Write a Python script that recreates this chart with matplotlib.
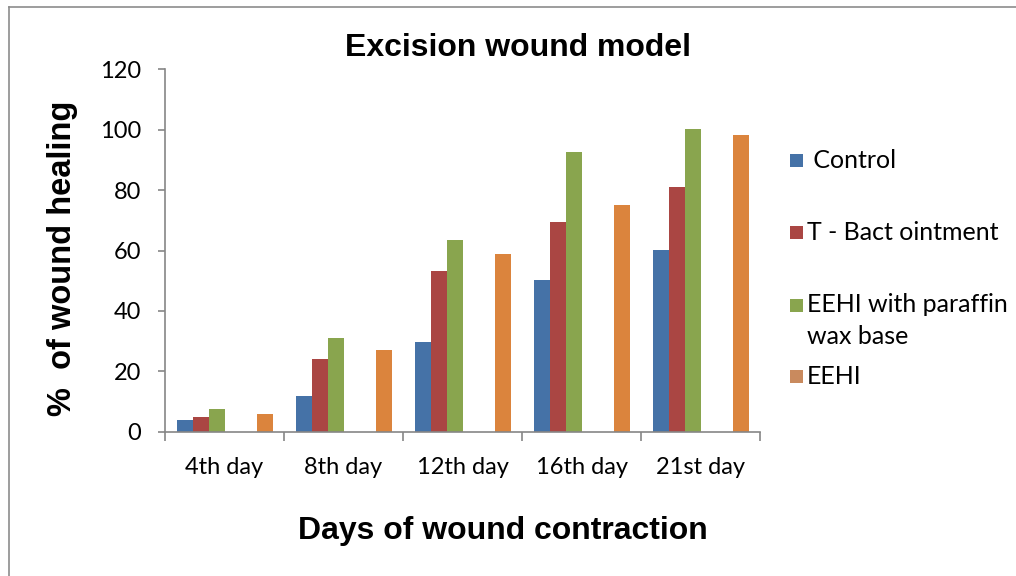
import matplotlib
matplotlib.use("Agg")
import numpy as np
from matplotlib import pyplot as plt
from matplotlib.patches import Rectangle
from matplotlib.lines import Line2D

# data
days = ["4th day", "8th day", "12th day", "16th day", "21st day"]
control = [4.0, 11.7, 29.8, 50.1, 60.1]
tbact = [5.0, 24.2, 53.3, 69.3, 81.0]
paraffin = [7.6, 30.9, 63.4, 92.7, 100.1]
eehi = [5.7, 27.0, 59.0, 75.0, 98.2]
series_names = [" Control", "T - Bact ointment", "EEHI with paraffin\nwax base", "EEHI"]
yticks = [0, 20, 40, 60, 80, 100, 120]

bar_colors = ["#4572A7", "#AA4643", "#89A54E", "#DB843D"]
legend_colors = ["#4572A7", "#AA4643", "#89A54E", "#C98A5E"]
slots = [0, 1, 2, 5]   # 6 slots per group, 2 left empty

W, H = 1016, 576
fig = plt.figure(figsize=(W / 100, H / 100), dpi=100)
fig.patch.set_facecolor("white")
ax = fig.add_axes([165 / W, 1 - 431.7 / H, 595 / W, (431.7 - 69.3) / H])

x = np.arange(len(days))
bw = 16 / 119
for vals, col, s in zip([control, tbact, paraffin, eehi], bar_colors, slots):
    ax.bar(x + (s - 2.5) * bw, vals, width=bw, color=col, edgecolor="none")

ax.set_xlim(-0.5, len(days) - 0.5)
ax.set_ylim(0, 120)
ax.set_yticks(yticks)
ax.set_yticklabels([str(v) for v in yticks], family="Lato", fontsize=17)
ax.set_xticks(np.arange(len(days) + 1) - 0.5)
ax.set_xticklabels([])
ax.set_xticks(x, minor=True)
ax.set_xticklabels(days, minor=True, family="Lato", fontsize=17)

gray = "#868686"
for sp in ["top", "right"]:
    ax.spines[sp].set_visible(False)
for sp in ["left", "bottom"]:
    ax.spines[sp].set_color(gray)
    ax.spines[sp].set_linewidth(1.2)
ax.tick_params(axis="y", direction="out", length=5, width=1.2, color=gray, pad=12)
ax.tick_params(axis="x", which="major", direction="out", length=6.5, width=1.2, color=gray)
ax.tick_params(axis="x", which="minor", length=0, pad=18)

# titles
fig.text(518 / W, 1 - 48 / H, "Excision wound model", family="Liberation Sans",
         weight="bold", fontsize=23, ha="center", va="center")
fig.text(503 / W, 1 - 531 / H, "Days of wound contraction", family="Liberation Sans",
         weight="bold", fontsize=23, ha="center", va="center")
fig.text(63 / W, 1 - 258 / H, "%  of wound healing", family="Liberation Sans",
         weight="bold", fontsize=23.5, ha="center", va="center", rotation=90)

# legend drawn by hand
leg_y = [160, 232, 305, 376]
for name, col, yc in zip(series_names, legend_colors, leg_y):
    fig.patches.append(Rectangle((790 / W, 1 - (yc + 6.5) / H), 13 / W, 13 / H,
                                 transform=fig.transFigure, facecolor=col,
                                 edgecolor="none"))
    for k, line in enumerate(name.split("\n")):
        fig.text(807 / W, 1 - (yc + k * 31) / H, line, family="Lato",
                 fontsize=18, ha="left", va="center")

# frame lines on left and top
fig.lines.append(Line2D([9 / W, 9 / W], [0, 1 - 7 / H], transform=fig.transFigure,
                        color="#8c8c8c", lw=1.2))
fig.lines.append(Line2D([9 / W, 1], [1 - 7 / H, 1 - 7 / H], transform=fig.transFigure,
                        color="#8c8c8c", lw=1.2))

fig.savefig("out.png", dpi=100)
